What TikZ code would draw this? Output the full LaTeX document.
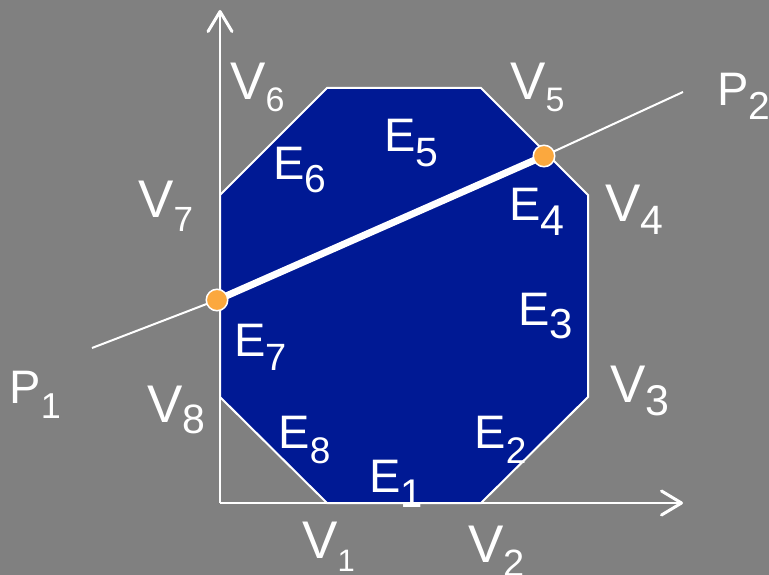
\documentclass[tikz,border=0pt]{standalone}
\usepackage{fontspec}
\setmainfont{Liberation Sans}
\usetikzlibrary{arrows.meta}
\definecolor{bggray}{RGB}{128,128,128}
\definecolor{octblue}{RGB}{0,25,148}
\definecolor{dotorange}{RGB}{251,168,62}
% #1 letter, #2 digit, #3 main size, #4 subscript size, #5 drop
\newcommand\mylab[5]{{\fontsize{#3}{#3}\selectfont #1}\raisebox{-#5pt}{\fontsize{#4}{#4}\selectfont #2}}
\begin{document}
\begin{tikzpicture}[x=1pt,y=-1pt]
\tikzset{
  octa/.style={fill=octblue, draw=white, line width=2pt, line join=miter},
  axisline/.style={draw=white, line width=2pt, -{Straight Barb[length=20pt,width=24pt,line width=3pt,round]}},
  thinline/.style={draw=white, line width=2pt},
  thickline/.style={draw=white, line width=7pt},
  ptdot/.style={circle, fill=dotorange, draw=white, line width=1.5pt, minimum size=21.5pt, inner sep=0pt},
  lab/.style={inner sep=0pt, anchor=base west, text=white}
}
\fill[bggray] (0,0) rectangle (769,575);
\useasboundingbox (0,0) rectangle (769,575);

% octagon vertices
\coordinate (c1) at (327,503);
\coordinate (c2) at (481,503);
\coordinate (c3) at (588,397);
\coordinate (c4) at (588,195);
\coordinate (c5) at (481,88);
\coordinate (c6) at (327,88);
\coordinate (c7) at (220,195);
\coordinate (c8) at (220,397);
\path[octa] (c1) -- (c2) -- (c3) -- (c4) -- (c5) -- (c6) -- (c7) -- (c8) -- cycle;

% axes
\coordinate (org) at (220,503);
\coordinate (ytip) at (220,10);
\coordinate (xtip) at (683,503);
\draw[axisline] (org) -- (ytip);
\draw[axisline] (org) -- (xtip);

% line P1-P2
\coordinate (p1end) at (92,348);
\coordinate (p2end) at (683,92);
\coordinate (d1) at (217,300);
\coordinate (d2) at (544,156);
\draw[thinline] (p1end) -- (d1);
\draw[thinline] (d2) -- (p2end);
\draw[thickline] (d1) -- (d2);
\node[ptdot] (dot1) at (d1) {};
\node[ptdot] (dot2) at (d2) {};

% vertex labels
\node[lab] (v6) at (230,100) {\mylab{V}{6}{53}{34}{12}};
\node[lab] (v5) at (510,100) {\mylab{V}{5}{53}{34}{12}};
\node[lab] (v7) at (138,218) {\mylab{V}{7}{53}{35}{14}};
\node[lab] (v8) at (147,422) {\mylab{V}{8}{53}{41}{11}};
\node[lab] (v4) at (605,222) {\mylab{V}{4}{53}{41}{13}};
\node[lab] (v3) at (610,402) {\mylab{V}{3}{53}{43}{13}};
\node[lab] (v1) at (302,558) {\mylab{V}{1}{53}{31}{13}};
\node[lab] (v2) at (468,562) {\mylab{V}{2}{53}{38}{14}};

% edge labels
\node[lab] (e5) at (384.3,152) {\mylab{E}{5}{47}{41}{15}};
\node[lab] (e6) at (273.3,180) {\mylab{E}{6}{47}{39}{13}};
\node[lab] (e4) at (509.3,221) {\mylab{E}{4}{47}{43}{14}};
\node[lab] (e3) at (518.3,325) {\mylab{E}{3}{47}{42}{13}};
\node[lab] (e8) at (278.3,448) {\mylab{E}{8}{47}{37}{15}};
\node[lab] (e2) at (474.3,448) {\mylab{E}{2}{47}{37}{15}};
\node[lab] (e1) at (369.3,492) {\mylab{E}{1}{47}{40}{15}};
\node[lab] (e7) at (234.3,356) {\mylab{E}{7}{47}{38}{14}};

% point labels
\node[lab] (lp1) at (9.3,403) {\mylab{P}{1}{47}{36}{15}};
\node[lab] (lp2) at (717.3,106) {\mylab{P}{2}{47}{39}{14}};
\end{tikzpicture}
\end{document}
